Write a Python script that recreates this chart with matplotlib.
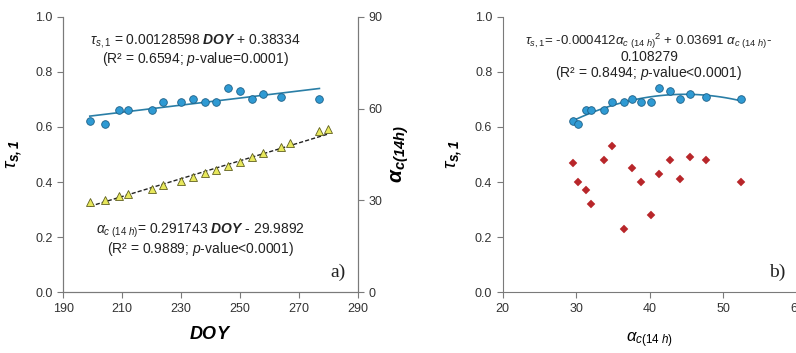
import matplotlib
matplotlib.use("Agg")
import matplotlib.pyplot as plt
import numpy as np

plt.rcParams['font.family'] = ['Liberation Sans', 'DejaVu Sans']
plt.rcParams['mathtext.fontset'] = 'custom'
plt.rcParams['mathtext.rm'] = 'Liberation Sans'
plt.rcParams['mathtext.it'] = 'Liberation Sans:italic'
plt.rcParams['mathtext.bf'] = 'Liberation Sans:bold:italic'

# day of year for the alpha series (18 days); tau measured on 16 of them
doy_alpha = [199, 204, 209, 212, 220, 224, 230, 234, 238, 242, 246, 250, 254, 258, 264, 267, 277, 280]
alpha = [29.5, 30.3, 31.3, 32.0, 33.8, 34.9, 36.5, 37.6, 38.8, 40.0, 41.4, 42.6, 44.1, 45.4, 47.6, 48.6, 52.6, 53.4]

doy_tau = [199, 204, 209, 212, 220, 224, 230, 234, 238, 242, 246, 250, 254, 258, 264, 277]
tau = [0.62, 0.61, 0.66, 0.66, 0.66, 0.69, 0.69, 0.70, 0.69, 0.69, 0.74, 0.73, 0.70, 0.72, 0.71, 0.70]

# panel b
alpha_b = [29.5, 30.3, 31.3, 32.0, 33.8, 34.8, 36.5, 37.6, 38.8, 40.1, 41.3, 42.7, 44.1, 45.5, 47.6, 52.4]
tau_b = [0.62, 0.61, 0.66, 0.66, 0.66, 0.69, 0.69, 0.70, 0.69, 0.69, 0.74, 0.73, 0.70, 0.72, 0.71, 0.70]
red_b = [0.47, 0.40, 0.37, 0.32, 0.48, 0.53, 0.23, 0.45, 0.40, 0.28, 0.43, 0.48, 0.41, 0.49, 0.48, 0.40]

# fitted equations from the figure
tau_fit = (0.00128598, 0.38334)
alpha_fit = (0.291743, -29.9892)
quad_fit = (-0.000412, 0.03691, -0.108279)

blue = '#2f9ad3'
blue_edge = '#1d5f86'
line_blue = '#2a7ea6'
yellow = '#e8e85c'
yellow_edge = '#5f5f20'
red = '#b8262a'
spine_c = '#7a7a7a'
tick_c = '#333333'

fig = plt.figure(figsize=(7.96, 3.53), dpi=100)

def style(ax):
    for s in ax.spines.values():
        s.set_color(spine_c)
    ax.tick_params(colors=spine_c, labelcolor=tick_c, labelsize=9, length=4, direction='out')

# ---------------- panel a
ax1 = fig.add_axes([63.3/796, 1-292.3/353, 294.4/796, 275.6/353])
ax2 = ax1.twinx()
style(ax1)
style(ax2)
ax1.spines['top'].set_visible(False)
ax2.spines['top'].set_visible(False)

x1 = np.linspace(min(doy_tau), max(doy_tau), 50)
ax1.plot(x1, tau_fit[0]*x1 + tau_fit[1], color=line_blue, lw=1.2, zorder=2)
ax1.plot(doy_tau, tau, 'o', ms=5.5, mfc=blue, mec=blue_edge, mew=0.6, zorder=3)

x2 = np.linspace(min(doy_alpha), max(doy_alpha), 50)
ax2.plot(x2, alpha_fit[0]*x2 + alpha_fit[1], color='#222222', lw=1.0, ls=(0, (3, 1.5)), zorder=2)
ax2.plot(doy_alpha, alpha, '^', ms=5.5, mfc=yellow, mec=yellow_edge, mew=0.6, zorder=3)

ax1.set_xlim(190, 290)
ax1.set_ylim(0, 1.0)
ax2.set_ylim(0, 90)
ax1.set_xticks(np.arange(190, 291, 20))
ax1.set_yticks(np.arange(0, 1.01, 0.2))
ax1.set_yticklabels(['%.1f' % v for v in np.arange(0, 1.01, 0.2)])
ax2.set_yticks([0, 30, 60, 90])

ax1.set_xlabel(r'$\mathbf{DOY}$', fontsize=13, labelpad=8)
ax1.set_ylabel(r'$\tau_{\mathbf{s,1}}$', fontsize=14, labelpad=8)
ax2.set_ylabel(r'$\mathbf{\alpha_{c(14h)}}$', fontsize=15, labelpad=5)

ax1.text(0.45, 0.912, r'$\tau_{s,1}$ = 0.00128598 $\mathbf{DOY}$ + 0.38334',
         transform=ax1.transAxes, ha='center', va='center', fontsize=10, color='#222222')
ax1.text(0.45, 0.846, r'(R² = 0.6594; $p$-value=0.0001)',
         transform=ax1.transAxes, ha='center', va='center', fontsize=10, color='#222222')
ax1.text(0.465, 0.224, r'$\alpha_{c\ (14\ h)}$= 0.291743 $\mathbf{DOY}$ - 29.9892',
         transform=ax1.transAxes, ha='center', va='center', fontsize=10, color='#222222')
ax1.text(0.465, 0.158, r'(R² = 0.9889; $p$-value<0.0001)',
         transform=ax1.transAxes, ha='center', va='center', fontsize=10, color='#222222')
ax1.text(0.934, 0.073, 'a)', transform=ax1.transAxes, ha='center', va='center',
         fontsize=14, family='Liberation Serif', color='#222222')

# ---------------- panel b
ax3 = fig.add_axes([502.7/796, 1-292.3/353, 294.3/796, 275.6/353])
style(ax3)
ax3.spines['top'].set_visible(False)
ax3.spines['right'].set_visible(False)

x3 = np.linspace(min(alpha_b), max(alpha_b), 80)
ax3.plot(x3, quad_fit[0]*x3**2 + quad_fit[1]*x3 + quad_fit[2], color=line_blue, lw=1.2, zorder=2)
ax3.plot(alpha_b, tau_b, 'o', ms=5.5, mfc=blue, mec=blue_edge, mew=0.6, zorder=3)
ax3.plot(alpha_b, red_b, 'D', ms=4, mfc=red, mec=red, mew=0.3, zorder=3)

ax3.set_xlim(20, 60)
ax3.set_ylim(0, 1.0)
ax3.set_xticks([20, 30, 40, 50, 60])
ax3.set_xticklabels(['20', '30', '40', '50', '60'])
ax3.set_yticks(np.arange(0, 1.01, 0.2))
ax3.set_yticklabels(['%.1f' % v for v in np.arange(0, 1.01, 0.2)])
ax3.set_xlabel(r'$\alpha_{c(14\ h)}$', fontsize=12, labelpad=11)
ax3.set_ylabel(r'$\tau_{\mathbf{s,1}}$', fontsize=14, labelpad=8)

ax3.text(0.497, 0.912, r'$\tau_{s,1}$= -0.000412$\alpha_{c\ (14\ h)}$$^2$ + 0.03691 $\alpha_{c\ (14\ h)}$-',
         transform=ax3.transAxes, ha='center', va='center', fontsize=9.5, color='#222222')
ax3.text(0.5, 0.852, '0.108279', transform=ax3.transAxes, ha='center', va='center',
         fontsize=10, color='#222222')
ax3.text(0.497, 0.794, r'(R² = 0.8494; $p$-value<0.0001)', transform=ax3.transAxes,
         ha='center', va='center', fontsize=10, color='#222222')
ax3.text(0.932, 0.073, 'b)', transform=ax3.transAxes, ha='center', va='center',
         fontsize=14, family='Liberation Serif', color='#222222')

fig.savefig('out.png', dpi=100)
